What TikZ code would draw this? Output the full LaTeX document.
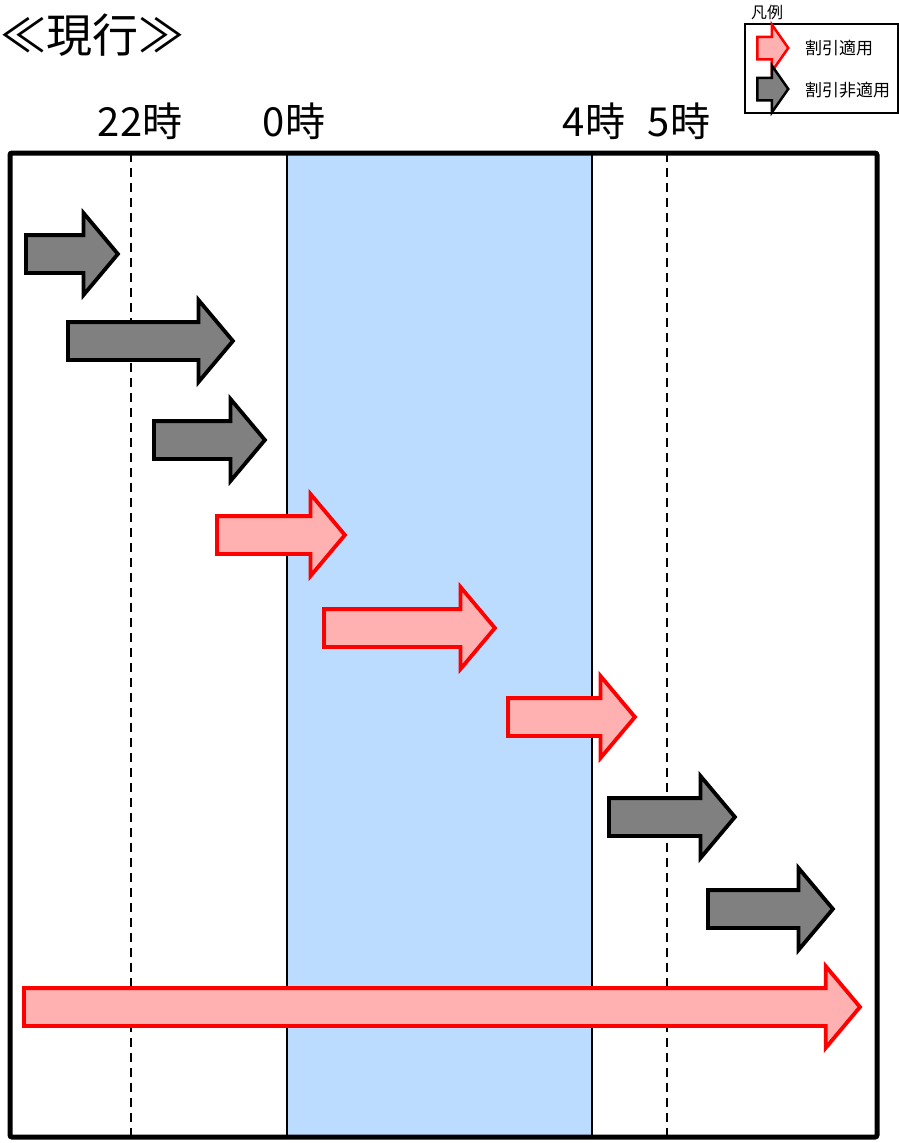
\documentclass[tikz,border=0pt]{standalone}
\usepackage{fontspec}
\setmainfont{Noto Sans CJK JP}
\usepackage{tikz}
\usetikzlibrary{shapes.arrows}
\definecolor{bandblue}{RGB}{187,219,255}
\definecolor{offgray}{RGB}{128,128,128}
\definecolor{onpink}{RGB}{255,176,176}

\begin{document}
\begin{tikzpicture}
[
    x = 1pt, y = -1pt,
    every node/.style = {inner sep = 0pt},
    bigarrow/.style = {single arrow, anchor = west, line width = 3.8pt, inner ysep = 17pt,
        single arrow head extend = 22pt, single arrow tip angle = 100},
    offarrow/.style = {bigarrow, draw = black, fill = offgray},
    onarrow/.style = {bigarrow, draw = red, fill = onpink},
    keyarrow/.style = {single arrow, anchor = west, line width = 2.5pt, inner ysep = 10pt,
        minimum height = 31pt, single arrow head extend = 12pt, single arrow tip angle = 110},
    hourline/.style = {line width = 1.8pt, dash pattern = on 9pt off 6pt},
    hourlabel/.style = {anchor = base, font = \fontsize{40}{40}\selectfont},
    keytext/.style = {anchor = west, font = \fontsize{17}{17}\selectfont},
]
    \useasboundingbox (0,0) rectangle (899,1143);

    \node[anchor = west, font = \fontsize{46}{46}\selectfont] (title) at (0,35) {≪現行≫};

    \fill[bandblue] (287,153) rectangle (592,1137);
    \draw[line width = 1.5pt] (287,153) -- (287,1137);
    \draw[line width = 1.5pt] (592,153) -- (592,1137);
    \draw[hourline] (131,153) -- (131,1137);
    \draw[hourline] (667,153) -- (667,1137);
    \draw[line width = 5pt, rounded corners = 2pt] (10,153) rectangle (877,1137);

    \node[hourlabel] (h22) at (140,136) {22時};
    \node[hourlabel] (h0) at (294,136) {0時};
    \node[hourlabel] (h4) at (594,136) {4時};
    \node[hourlabel] (h5) at (679,136) {5時};

    \node[offarrow, minimum height = 92pt] (a1) at (24,254) {};
    \node[offarrow, minimum height = 165pt] (a2) at (66,341) {};
    \node[offarrow, minimum height = 111pt] (a3) at (152,440) {};
    \node[onarrow, minimum height = 128pt] (a4) at (215,535) {};
    \node[onarrow, minimum height = 171pt] (a5) at (322,628) {};
    \node[onarrow, minimum height = 127pt] (a6) at (506,717) {};
    \node[offarrow, minimum height = 126pt] (a7) at (607,817) {};
    \node[offarrow, minimum height = 125pt] (a8) at (706,909) {};
    \node[onarrow, minimum height = 836pt] (a9) at (22,1007) {};

    \node[anchor = west, font = \fontsize{16}{16}\selectfont] (keytitle) at (751,12) {凡例};
    \draw[line width = 1.2pt] (745,24) rectangle (898,113);
    \node[keyarrow, draw = red, fill = onpink] (keyon) at (756,48) {};
    \node[keyarrow, draw = black, fill = offgray] (keyoff) at (756,89) {};
    \node[keytext] (texton) at (805,48) {割引適用};
    \node[keytext] (textoff) at (805,90) {割引非適用};
\end{tikzpicture}
\end{document}
